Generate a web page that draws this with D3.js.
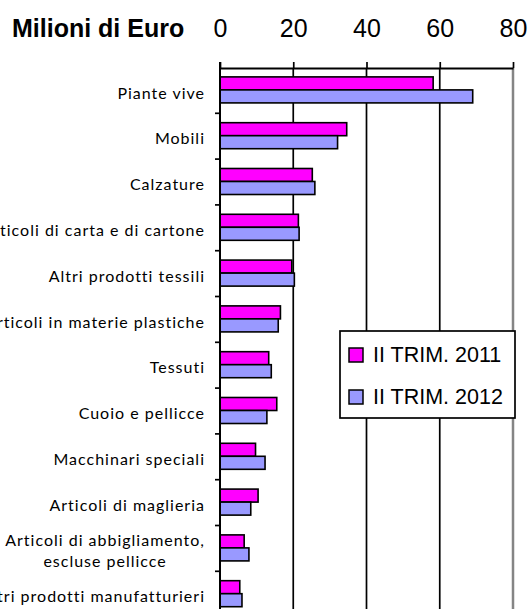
<!DOCTYPE html>
<html>
<head>
<meta charset="utf-8">
<script src="https://cdn.jsdelivr.net/npm/d3@7"></script>
<style>
    body { margin: 0; background: #fff; }
    svg { display: block; }
    .cat-label { font-family: Lato, 'Open Sans', sans-serif; font-size: 16px; letter-spacing: 1px; fill: #000; }
    .x-axis text { font-family: 'Liberation Sans', Arial, sans-serif; font-size: 25px; fill: #000; }
    .unit-label { font-family: 'Liberation Sans', Arial, sans-serif; font-size: 25px; font-weight: bold; fill: #000; }
    .legend text { font-family: 'Liberation Sans', Arial, sans-serif; font-size: 21.5px; fill: #000; }
</style>
</head>
<body>
<div id="chart"></div>
<script>
// categories, top to bottom
const categories = [
    'Piante vive',
    'Mobili',
    'Calzature',
    'Articoli di carta e di cartone',
    'Altri prodotti tessili',
    'Articoli in materie plastiche',
    'Tessuti',
    'Cuoio e pellicce',
    'Macchinari speciali',
    'Articoli di maglieria',
    'Articoli di abbigliamento,|escluse pellicce',
    'Altri prodotti manufatturieri',
];

// Milioni di Euro
const trim2011 = [58.2, 34.6, 25.2, 21.4, 19.6, 16.5, 13.3, 15.5, 9.7, 10.4, 6.6, 5.4];
const trim2012 = [69.0, 32.1, 25.9, 21.6, 20.3, 15.9, 14.0, 12.8, 12.3, 8.4, 7.9, 6.0];

const seriesNames = ['II TRIM. 2011', 'II TRIM. 2012'];
const seriesColors = ['#ff00ff', '#9999ff'];
const xTicks = [0, 20, 40, 60, 80];

const width = 530;
const height = 609;

// plot area (the bottom runs past the picture and is cut off)
const plot = { left: 220, right: 513, top: 67, bottom: 616.6 };

const svg = d3.select('#chart')
    .append('svg')
    .attr('width', width)
    .attr('height', height);

const x = d3.scaleLinear()
    .domain([0, 80])
    .range([plot.left, plot.right]);

const y = d3.scaleBand()
    .domain(categories)
    .range([plot.top, plot.bottom])
    .paddingInner(0.432)
    .paddingOuter(0.216);

const ySeries = d3.scaleBand()
    .domain(seriesNames)
    .range([0, y.bandwidth()]);

// boundaries between categories, for the left tick marks
const yEdge = d3.scaleLinear()
    .domain([0, categories.length])
    .range([plot.top, plot.bottom]);

/* GRIDLINES */
svg.append('g')
    .attr('class', 'grid')
    .selectAll('line')
    .data(xTicks.slice(1))
    .join('line')
    .attr('x1', (d) => x(d))
    .attr('x2', (d) => x(d))
    .attr('y1', 68)
    .attr('y2', plot.bottom)
    .attr('stroke', (d) => (d === 80 ? '#858585' : '#000'))
    .attr('stroke-width', (d) => (d === 80 ? 2.5 : 1.7));

/* BARS */
const rows = categories.map((c, i) => ({
    cat: c,
    values: [trim2011[i], trim2012[i]],
}));

const groups = svg.append('g')
    .attr('class', 'bars')
    .selectAll('g')
    .data(rows)
    .join('g')
    .attr('transform', (d) => `translate(0,${y(d.cat)})`);

groups.selectAll('rect')
    .data((d) => d.values.map((v, j) => ({ v, name: seriesNames[j], color: seriesColors[j] })))
    .join('rect')
    .attr('x', x(0))
    .attr('y', (d) => ySeries(d.name))
    .attr('width', (d) => x(d.v) - x(0))
    .attr('height', ySeries.bandwidth())
    .attr('fill', (d) => d.color)
    .attr('stroke', '#000')
    .attr('stroke-width', 1.6);

/* AXES */
const xAxis = svg.append('g')
    .attr('class', 'x-axis')
    .attr('transform', 'translate(0,68)')
    .call(d3.axisTop(x).tickValues(xTicks).tickSize(6).tickPadding(25).tickSizeOuter(0));

xAxis.select('.domain').attr('stroke', '#000').attr('stroke-width', 2);
xAxis.selectAll('.tick line').attr('stroke', '#000').attr('stroke-width', 1.7);

const yAxis = svg.append('g')
    .attr('class', 'y-axis')
    .attr('transform', `translate(${plot.left},0)`)
    .call(d3.axisLeft(yEdge).tickValues(d3.range(1, categories.length)).tickSize(5).tickFormat('').tickSizeOuter(0));

yAxis.select('.domain')
    .attr('d', `M0,62V${plot.bottom}`)
    .attr('stroke', '#000')
    .attr('stroke-width', 2);
yAxis.selectAll('.tick line').attr('stroke', '#000').attr('stroke-width', 1.7);

/* CATEGORY LABELS */
const labels = svg.append('g')
    .attr('class', 'cat-labels')
    .selectAll('text')
    .data(categories)
    .join('text')
    .attr('class', 'cat-label')
    .attr('x', 205)
    .attr('y', (d) => y(d) + y.bandwidth() / 2 + 3);

labels.each(function (d) {
    const lines = d.split('|');
    const t = d3.select(this);
    if (lines.length === 1) {
        t.attr('text-anchor', 'end').attr('dy', '0.35em').text(d);
        return;
    }
    // two lines, centred on each other, right edge at the same place
    const first = t.append('tspan').text(lines[0]);
    const w = first.node().getComputedTextLength();
    const cx = 205 - w / 2;
    t.attr('text-anchor', 'middle').attr('x', cx);
    first.attr('x', cx).attr('dy', '-0.3em');
    t.append('tspan').attr('x', cx).attr('dy', '1.33em').text(lines[1]);
});

/* UNIT LABEL */
svg.append('text')
    .attr('class', 'unit-label')
    .attr('x', 12)
    .attr('y', 37)
    .text('Milioni di Euro');

/* LEGEND */
const legend = svg.append('g')
    .attr('class', 'legend')
    .attr('transform', 'translate(340,331)');

legend.append('rect')
    .attr('width', 175)
    .attr('height', 87)
    .attr('fill', '#fff')
    .attr('stroke', '#000')
    .attr('stroke-width', 1.7);

const items = legend.selectAll('g.item')
    .data(seriesNames)
    .join('g')
    .attr('class', 'item')
    .attr('transform', (d, i) => `translate(9,${17 + i * 42})`);

items.append('rect')
    .attr('width', 14)
    .attr('height', 14)
    .attr('fill', (d, i) => seriesColors[i])
    .attr('stroke', '#000')
    .attr('stroke-width', 1.5);

items.append('text')
    .attr('x', 24)
    .attr('y', 14)
    .text((d) => d);
</script>
</body>
</html>
